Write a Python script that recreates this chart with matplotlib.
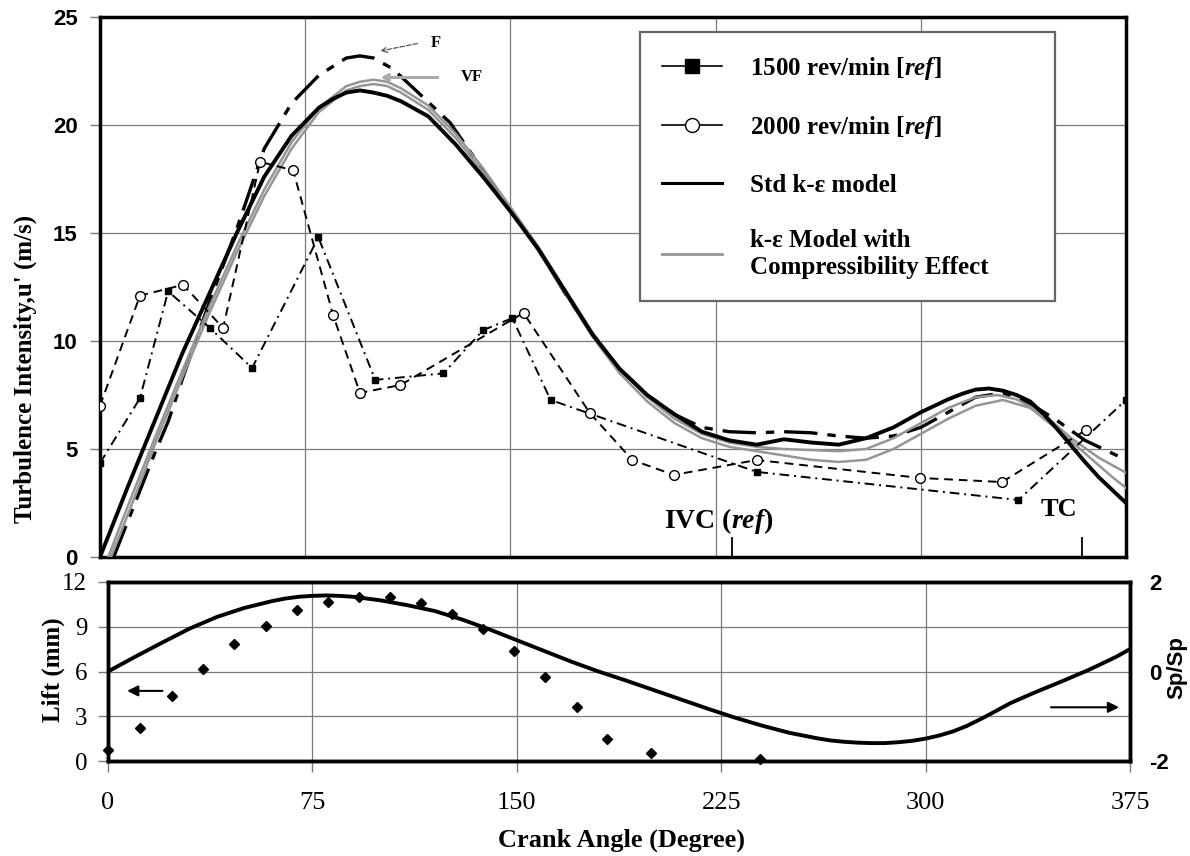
import matplotlib
matplotlib.use("Agg")
import matplotlib.pyplot as plt
from matplotlib.lines import Line2D

plt.rcParams['mathtext.fontset'] = 'custom'
plt.rcParams['mathtext.rm'] = 'Liberation Serif:bold'
plt.rcParams['mathtext.it'] = 'Liberation Serif:italic:bold'
plt.rcParams['axes.unicode_minus'] = False

SERIF = 'Liberation Serif'
SANS = 'Liberation Sans'

# measured turbulence intensity (m/s) vs crank angle (deg)
ca_1500 = [0, 14.6, 24.9, 40.2, 55.6, 79.8, 100.6, 125.5, 140, 150.7, 164.7, 240, 335.7, 375]
u_1500 = [4.35, 7.35, 12.3, 10.6, 8.75, 14.8, 8.2, 8.5, 10.5, 11.06, 7.27, 3.94, 2.64, 7.27]

ca_2000 = [0, 14.6, 30.4, 45, 58.5, 70.6, 85.2, 95, 109.8, 154.8, 179, 194.6, 209.7, 240,
           299.7, 329.7, 360.4]
u_2000 = [7.0, 12.1, 12.6, 10.6, 18.3, 17.9, 11.2, 7.6, 7.96, 11.3, 6.67, 4.49, 3.8, 4.49,
          3.66, 3.47, 5.88]

# model results
ca_std = [0, 10, 20, 30, 40, 50, 60, 70, 80, 85, 90, 95, 100, 105, 110, 120, 130, 140, 150,
          160, 170, 180, 190, 200, 210, 220, 230, 240, 250, 260, 270, 280, 290, 300, 310, 315,
          320, 325, 330, 335, 340, 345, 350, 355, 360, 365, 370, 375]
u_std = [0, 3.2, 6.3, 9.4, 12.2, 15.0, 17.6, 19.5, 20.8, 21.2, 21.5, 21.6, 21.5, 21.35, 21.1,
         20.4, 19.1, 17.6, 16.0, 14.3, 12.3, 10.3, 8.7, 7.5, 6.6, 5.8, 5.4, 5.2, 5.45, 5.3,
         5.2, 5.5, 6.0, 6.7, 7.3, 7.55, 7.75, 7.8, 7.7, 7.5, 7.2, 6.6, 5.9, 5.15, 4.4, 3.7,
         3.1, 2.5]

ca_vf = [3, 10, 20, 30, 40, 50, 60, 70, 80, 90, 95, 100, 105, 110, 120, 130, 140, 150, 160,
         170, 180, 190, 200, 210, 220, 230, 240, 250, 260, 270, 280, 290, 300, 310, 320, 328,
         335, 345, 355, 365, 375]
u_vf = [0, 2.3, 5.5, 8.6, 11.6, 14.4, 17.0, 19.2, 20.8, 21.8, 22.0, 22.1, 22.0, 21.7, 20.9,
        19.6, 18.0, 16.2, 14.4, 12.4, 10.4, 8.7, 7.4, 6.4, 5.7, 5.3, 5.1, 5.0, 4.95, 4.9,
        5.0, 5.5, 6.2, 6.9, 7.4, 7.5, 7.3, 6.6, 5.5, 4.6, 3.9]

ca_comp = [4, 10, 20, 30, 40, 50, 60, 70, 80, 90, 95, 100, 105, 110, 120, 130, 140, 150, 160,
           170, 180, 190, 200, 210, 220, 230, 240, 250, 260, 270, 280, 290, 300, 310, 320, 330,
           340, 350, 360, 370, 375]
u_comp = [0, 1.9, 5.2, 8.3, 11.3, 14.1, 16.7, 18.9, 20.6, 21.6, 21.8, 21.9, 21.8, 21.5, 20.7,
          19.4, 17.8, 16.0, 14.2, 12.2, 10.2, 8.5, 7.2, 6.2, 5.5, 5.1, 4.9, 4.7, 4.5, 4.4,
          4.5, 5.0, 5.7, 6.4, 7.0, 7.27, 6.9, 5.9, 4.8, 3.7, 3.2]

ca_f = [5, 10, 20, 25, 30, 40, 50, 60, 70, 80, 90, 95, 100, 107, 118, 128, 140, 150, 160, 170,
        180, 190, 200, 210, 220, 230, 240, 250, 260, 270, 280, 290, 300, 310, 320, 330, 340,
        350, 360, 370, 375]
u_f = [0, 1.6, 4.8, 6.3, 8.2, 11.8, 15.2, 18.9, 21.0, 22.3, 23.1, 23.2, 23.1, 22.6, 21.3,
       20.1, 17.9, 16.1, 14.3, 12.2, 10.3, 8.7, 7.5, 6.6, 6.0, 5.8, 5.75, 5.8, 5.75, 5.6, 5.5,
       5.6, 6.0, 6.7, 7.4, 7.6, 7.1, 6.3, 5.4, 4.8, 4.5]

# valve lift (mm) and normalised piston speed
ca_lift = [0, 11.6, 23.3, 34.8, 46.3, 58, 69.2, 80.7, 92.1, 103.6, 114.9, 126.2, 137.7, 149,
           160.5, 172, 183.2, 199.3, 239.4]
lift = [0.74, 2.19, 4.36, 6.19, 7.84, 9.05, 10.12, 10.68, 10.99, 10.99, 10.59, 9.85, 8.85,
        7.37, 5.65, 3.64, 1.47, 0.51, 0.11]

ca_sp = [0, 10, 20, 30, 40, 50, 60, 65, 70, 75, 80, 85, 90, 95, 100, 110, 120, 130, 140, 150,
         160, 170, 180, 190, 200, 210, 220, 230, 240, 250, 260, 265, 270, 275, 280, 285, 290,
         295, 300, 305, 310, 315, 320, 325, 331, 340, 350, 360, 370, 375]
sp = [0.0, 0.33, 0.65, 0.96, 1.22, 1.42, 1.57, 1.63, 1.67, 1.69, 1.70, 1.69, 1.67, 1.63, 1.59,
      1.48, 1.35, 1.16, 0.94, 0.70, 0.46, 0.22, 0.0, -0.2, -0.41, -0.62, -0.83, -1.03, -1.21,
      -1.37, -1.49, -1.54, -1.57, -1.59, -1.60, -1.60, -1.58, -1.55, -1.50, -1.43, -1.34,
      -1.22, -1.07, -0.91, -0.71, -0.47, -0.22, 0.04, 0.33, 0.5]

x_ticks = [0, 75, 150, 225, 300, 375]
IVC_ANGLE = 231
TC_ANGLE = 359

GRID = '#7a7a7a'
GREY_LINE = '#959595'

fig = plt.figure(figsize=(11.9, 8.56), dpi=100)
ax = fig.add_axes([100 / 1190, 1 - 557 / 856, 1026 / 1190, 540 / 856])
ax_b = fig.add_axes([108 / 1190, 1 - 761 / 856, 1022 / 1190, 179 / 856])

# ---- top panel ----
ax.set_xlim(0, 375)
ax.set_ylim(0, 25)
ax.set_xticks(x_ticks)
ax.set_yticks(range(0, 26, 5))
ax.set_yticklabels([str(v) for v in range(0, 26, 5)], fontfamily=SANS, fontweight='bold',
                   fontsize=16)
ax.tick_params(axis='x', length=0, labelbottom=False)
ax.tick_params(axis='y', length=7, width=1, color=GRID, pad=9)
ax.grid(True, color=GRID, lw=0.9)
ax.set_axisbelow(True)
for s in ax.spines.values():
    s.set_linewidth(2.5)

ax.plot(ca_1500, u_1500, color='k', lw=1.4, dashes=(5, 2.5, 1, 2.5), marker='s', ms=5,
        zorder=4)
ax.plot(ca_2000, u_2000, color='k', lw=1.4, dashes=(4.5, 3), marker='o', ms=7, mfc='white',
        zorder=4)
ax.plot(ca_f, u_f, color='k', lw=2.4, dashes=(10, 3, 2.5, 3), zorder=3)
ax.plot(ca_vf, u_vf, color=GREY_LINE, lw=1.8, zorder=3)
ax.plot(ca_comp, u_comp, color=GREY_LINE, lw=1.8, zorder=3)
ax.plot(ca_std, u_std, color='k', lw=2.8, zorder=3)

ax.annotate('', xy=(101.5, 23.4), xytext=(117, 23.8),
            arrowprops=dict(arrowstyle='->', color='#555', lw=0.9, ls='--'))
ax.text(121, 23.8, 'F', fontfamily=SERIF, fontweight='bold', fontsize=12, va='center')
ax.annotate('', xy=(101.5, 22.2), xytext=(124.5, 22.2),
            arrowprops=dict(arrowstyle='->', color='#aaaaaa', lw=2.2))
ax.text(132, 22.2, 'VF', fontfamily=SERIF, fontweight='bold', fontsize=12, va='center')

ax.plot([IVC_ANGLE, IVC_ANGLE], [0, 0.9], color='k', lw=1.3)
ax.plot([TC_ANGLE, TC_ANGLE], [0, 0.9], color='k', lw=1.3)
ax.text(226, 1.65, r'IVC ($\mathit{ref}$)', fontfamily=SERIF, fontweight='bold', fontsize=20,
        ha='center', va='center')
ax.text(350.5, 2.2, 'TC', fontfamily=SERIF, fontweight='bold', fontsize=19,
        ha='center', va='center')

handles = [
    Line2D([], [], color='k', lw=1.2, marker='s', ms=10),
    Line2D([], [], color='k', lw=1.2, marker='o', ms=10, mfc='white'),
    Line2D([], [], color='k', lw=2.2),
    Line2D([], [], color=GREY_LINE, lw=2.0),
]
labels = [r'1500 rev/min [$\mathit{ref}$]', r'2000 rev/min [$\mathit{ref}$]',
          'Std k-ε model', 'k-ε Model with\nCompressibility Effect']
leg = ax.legend(handles, labels, loc='upper left', bbox_to_anchor=(0.526, 0.472, 0.405, 0.5),
                mode='expand', borderaxespad=0,
                prop={'family': SERIF, 'weight': 'bold', 'size': 18},
                frameon=True, fancybox=False, edgecolor='#666666', framealpha=1,
                borderpad=0.9, labelspacing=1.3, handlelength=2.4, handletextpad=1.1)
leg.get_frame().set_linewidth(1.6)

# ---- bottom panel ----
ax_b.set_xlim(0, 375)
ax_b.set_ylim(0, 12)
ax_b.set_xticks(x_ticks)
ax_b.set_xticklabels([str(v) for v in x_ticks], fontfamily=SERIF, fontsize=19)
ax_b.set_yticks(range(0, 13, 3))
ax_b.set_yticklabels([str(v) for v in range(0, 13, 3)], fontfamily=SERIF, fontsize=18)
ax_b.tick_params(axis='x', length=8, width=1, color=GRID, pad=14)
ax_b.tick_params(axis='y', length=7, width=1, color=GRID, pad=8)
ax_b.grid(True, color=GRID, lw=0.9)
ax_b.set_axisbelow(True)
for s in ax_b.spines.values():
    s.set_linewidth(2.5)

ax_b.plot(ca_lift, lift, ls='none', marker='D', ms=5, color='k', zorder=4, clip_on=False)
ax_b.annotate('', xy=(6, 4.7), xytext=(21, 4.7),
              arrowprops=dict(arrowstyle='-|>', color='k', lw=1.5, mutation_scale=16))

ax_s = ax_b.twinx()
ax_s.set_ylim(-2, 2)
ax_s.set_yticks([-2, 0, 2])
ax_s.set_yticklabels(['-2', '0', '2'], fontfamily=SANS, fontweight='bold', fontsize=16)
ax_s.tick_params(axis='y', length=0, pad=14)
for s in ax_s.spines.values():
    s.set_linewidth(2.5)
ax_s.plot(ca_sp, sp, color='k', lw=2.8)
ax_s.annotate('', xy=(372, -0.8), xytext=(345, -0.8),
              arrowprops=dict(arrowstyle='-|>', color='k', lw=1.5, mutation_scale=16))

# axis labels
fig.text(25 / 1190, 1 - 369 / 856, "Turbulence Intensity,u' (m/s)", rotation=90,
         fontfamily=SERIF, fontweight='bold', fontsize=18, ha='center', va='center')
fig.text(53 / 1190, 1 - 670 / 856, 'Lift (mm)', rotation=90,
         fontfamily=SERIF, fontweight='bold', fontsize=18, ha='center', va='center')
fig.text(1177 / 1190, 1 - 668 / 856, 'Sp/Sp', rotation=90,
         fontfamily=SANS, fontweight='bold', fontsize=16, ha='center', va='center')
fig.text(621 / 1190, 1 - 840 / 856, 'Crank Angle (Degree)',
         fontfamily=SERIF, fontweight='bold', fontsize=19, ha='center', va='center')

fig.savefig('out.png', dpi=100)
